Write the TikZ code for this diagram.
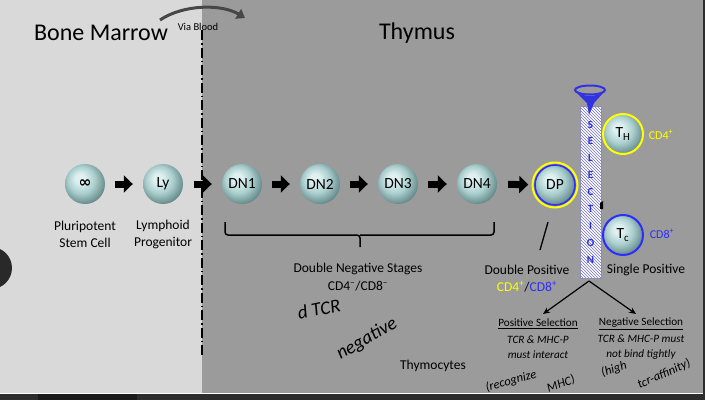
\documentclass[tikz,border=0pt]{standalone}
\usepackage{fontspec}
\setmainfont{Carlito}
\newfontfamily\symfont{DejaVu Sans}
\usepackage{tikz}
\usetikzlibrary{
	arrows.meta,
	calc,
	patterns,
	positioning,
}
\definecolor{leftbg}{RGB}{217,217,217}
\definecolor{rightbg}{RGB}{155,155,155}
\definecolor{bandcolor}{RGB}{45,45,45}
\definecolor{cellhi}{RGB}{222,240,240}
\definecolor{cellmid}{RGB}{170,206,206}
\definecolor{celllo}{RGB}{112,148,148}
\definecolor{celldark}{RGB}{62,86,86}
\definecolor{cdyellow}{RGB}{255,255,0}
\definecolor{cdblue}{RGB}{45,45,255}
\definecolor{selblue}{RGB}{50,50,225}
\pgfdeclareradialshading{cellball}{\pgfpoint{-7bp}{8bp}}{
	color(0bp)=(cellhi);
	color(6bp)=(cellhi);
	color(17bp)=(cellmid);
	color(27bp)=(celllo);
	color(34bp)=(celldark);
	color(50bp)=(celldark)}
\tikzset{cell node/.style={
	circle,
	minimum size=40pt,
	inner sep=0pt,
	shading=cellball,
	font=\fontsize{15.5}{17}\selectfont,
}}
\tikzset{caption/.style={
	align=center,
	inner sep=0pt,
	font=\fontsize{13.5}{17}\selectfont,
}}
\tikzset{title/.style={
	inner sep=0pt,
	font=\fontsize{24}{26}\selectfont,
}}
\tikzset{small text/.style={
	align=center,
	inner sep=0pt,
	font=\fontsize{11.2}{14.5}\selectfont,
}}
\tikzset{scribble/.style={
	inner sep=0pt,
	font=\itshape\fontsize{12.5}{12.5}\selectfont,
}}
\tikzset{block arrow/.style={
	line width=7pt,
	-{Triangle[length=9pt,width=17pt]},
	shorten <=10pt,
	shorten >=10pt,
}}
\tikzset{fork arrow/.style={
	line width=1.2pt,
	-{Stealth[length=7pt,width=6pt]},
}}
\tikzset{sel column/.style={
	rectangle,
	minimum width=21pt,
	minimum height=172pt,
	inner sep=0pt,
	draw=blue!30!gray!70,
	preaction={fill=white},
	pattern=north west lines,
	pattern color=blue!40!gray!80,
	align=center,
	text=selblue,
	font=\bfseries\fontsize{11}{16.9}\selectfont,
}}
\begin{document}
\begin{tikzpicture}[x=1pt,y=-1pt]
\useasboundingbox (0,0) rectangle (705,400);

% backgrounds
\fill[leftbg] (0,0) rectangle (202,393);
\fill[rightbg] (202,0) rectangle (703,393);
\fill[white] (0,392.5) rectangle (705,394);
\fill[bandcolor] (0,394) rectangle (705,400);
\fill[bandcolor] (703,0) rectangle (705,394);
\fill[bandcolor!60!black] (38,394) rectangle (137,400);
\fill[bandcolor!90!black] (-9,268) circle (21pt);

% divider
\coordinate (divtop) at (202,30);
\coordinate (divbot) at (202,355);
\draw[line width=2pt, dash pattern=on 10pt off 3pt on 1.5pt off 3pt] (divtop) -- (divbot);

\node[title](bone) at (101,33) {Bone Marrow};
\node[title](thymus) at (417,33) {Thymus};
\node[inner sep=0pt, font=\fontsize{10.5}{12}\selectfont](via) at (198,27) {Via Blood};

\coordinate (bloodA) at (160,20);
\coordinate (bloodB) at (245,18);
\draw[line width=3pt, black!72, -{Triangle[length=8pt,width=11pt]}]
(bloodA) .. controls (184,4) and (222,4) .. (bloodB);

% cells
\node[cell node](ps) at (85,184) {{\symfont\bfseries ∞}};
\node[cell node](ly) at (163,184) {Ly};
\node[cell node](dn1) at (242,184) {DN1};
\node[cell node](dn2) at (320,184) {DN2};
\node[cell node](dn3) at (398,184) {DN3};
\node[cell node](dn4) at (477,184) {DN4};
\node[cell node, draw=cdblue, line width=1.6pt](dp) at (555,185) {DP};
\draw[cdyellow, line width=2pt] (dp) circle (22.5pt);
\node[cell node, draw=cdyellow, line width=2pt](th) at (623,134) {T\textsubscript{H}};
\node[cell node, draw=cdblue, line width=2pt](tc) at (623,235) {T\textsubscript{c}};

% cell -> cell
\newcommand{\cellarrow}[3][]{
\draw[block arrow,#1] (#2) -- (#3);
}
\cellarrow{ps}{ly}
\cellarrow[shorten <=11pt]{ly}{dn1}
\cellarrow{dn1}{dn2}
\cellarrow{dn2}{dn3}
\cellarrow{dn3}{dn4}
\cellarrow[shorten <=11pt, shorten >=6pt]{dn4}{dp}

% captions
\node[caption](pscap) at (85,234) {Pluripotent\\Stem Cell};
\node[caption](lycap) at (163,234) {Lymphoid\\Progenitor};

% double negative bracket
\draw[line width=1.5pt, rounded corners=3pt] (225,222) |- (360,235) -- (360,247);
\draw[line width=1.5pt, rounded corners=3pt] (360,235) -| (494,222);
\node[caption](dnstage) at (358,269) {Double Negative Stages};
\node[caption](dncd) at (358,286) {CD4\textsuperscript{–}/CD8\textsuperscript{–}};

\coordinate (dpA) at (548,222);
\coordinate (dpB) at (540,250);
\draw[line width=1.3pt] (dpA) -- (dpB);
\node[caption](dpcap) at (527,270) {Double Positive};
\node[caption](dpcd) at (527,287) {\textcolor{cdyellow}{CD4\textsuperscript{+}}/\textcolor{cdblue}{CD8\textsuperscript{+}}};

% selection
\node[sel column](sel) at (590.5,192) {S\\E\\L\\E\\C\\T\\I\\O\\N};
\draw[selblue, line width=2pt] (590,90) ellipse (15pt and 4.5pt);
\fill[selblue] (576,92) .. controls (582,97) and (598,97) .. (604,92)
-- (594,103) -- (589,115) -- (587,103) -- cycle;
\fill (600,203) -- (603,201) -- (603,209) -- (600,209) -- cycle;

\node[inner sep=0pt, text=cdyellow, font=\fontsize{12}{14}\selectfont](cd4) at (661,135) {CD4\textsuperscript{+}};
\node[inner sep=0pt, text=cdblue, font=\fontsize{12}{14}\selectfont](cd8) at (662,234) {CD8\textsuperscript{+}};
\node[caption](spcap) at (646,270) {Single Positive};

% selection -> outcomes
\coordinate (fork) at (589,281);
\coordinate (posend) at (543,314);
\coordinate (negend) at (636,314);
\draw[fork arrow] (fork) -- (posend);
\draw[fork arrow] (fork) -- (negend);

\node[small text](poshead) at (538,324) {\underline{Positive Selection}};
\node[small text, font=\itshape\fontsize{11.2}{14.5}\selectfont](posdesc) at (538,347) {TCR \& MHC-P\\must interact};
\node[small text](neghead) at (641,324) {\underline{Negative Selection}};
\node[small text, font=\itshape\fontsize{11.2}{14.5}\selectfont](negdesc) at (641,347) {TCR \& MHC-P must\\not bind tightly};

\node[caption](thymo) at (433,366) {Thymocytes};

% handwriting
\node[scribble, rotate=12, font=\itshape\fontsize{19}{19}\selectfont](dtcr) at (319,309) {d TCR};
\node[scribble, rotate=30, font=\itshape\fontsize{19}{19}\selectfont](negnote) at (367,339) {negative};
\node[scribble, rotate=15](recnote) at (511,381) {(recognize};
\node[scribble, rotate=20](mhcnote) at (561,384) {MHC)};
\node[scribble, rotate=18](highnote) at (614,369) {(high};
\node[scribble, rotate=24](affnote) at (664,374) {tcr-affinity)};

\end{tikzpicture}
\end{document}
